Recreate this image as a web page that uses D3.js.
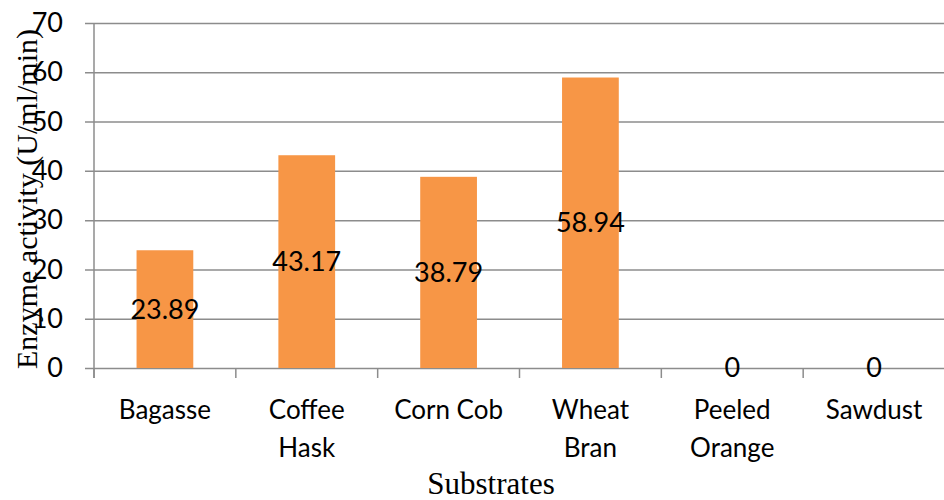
<!DOCTYPE html>
<html>
<head>
<meta charset="utf-8">
<script src="https://cdn.jsdelivr.net/npm/d3@7"></script>
<style>
  body { margin: 0; background: #fff; }
  svg { display: block; }
</style>
</head>
<body>
<svg></svg>
<script>
// data
let substrates = ['Bagasse', 'Coffee Hask', 'Corn Cob', 'Wheat Bran', 'Peeled Orange', 'Sawdust'];
let tickLines = [['Bagasse'], ['Coffee', 'Hask'], ['Corn Cob'], ['Wheat', 'Bran'], ['Peeled', 'Orange'], ['Sawdust']];
let activity = [23.89, 43.17, 38.79, 58.94, 0, 0];
let yTicks = [0, 10, 20, 30, 40, 50, 60, 70];

let width = 944;
let height = 500;
let plotLeft = 94, plotRight = 945, plotTop = 23, plotBottom = 368;

let svg = d3.select('svg').attr('width', width).attr('height', height);

let xScale = d3.scaleBand()
    .domain(substrates)
    .range([plotLeft, plotRight])
    .paddingInner(0.6)
    .paddingOuter(0.3);

let xLine = d3.scaleLinear().domain([0, substrates.length]).range([plotLeft, plotRight]);

let yScale = d3.scaleLinear()
    .domain([0, 70])
    .range([plotBottom, plotTop]);

// gridlines + y labels
let yAxis = d3.axisLeft(yScale).tickValues(yTicks).tickSize(-(plotRight - plotLeft + 9)).tickPadding(22);
let gy = svg.append('g')
    .attr('transform', 'translate(' + (plotLeft - 9) + ',0)')
    .call(yAxis);
gy.select('.domain').remove();
gy.selectAll('.tick line').attr('stroke', '#8c8c8c').attr('stroke-width', 1.5);
gy.selectAll('.tick text')
    .attr('font-family', 'Lato, "Open Sans", sans-serif')
    .attr('font-size', 27)
    .attr('fill', '#000');

// y axis line
svg.append('line')
    .attr('x1', plotLeft).attr('x2', plotLeft)
    .attr('y1', plotTop).attr('y2', plotBottom + 10)
    .attr('stroke', '#8c8c8c').attr('stroke-width', 1.5);

// category ticks
svg.selectAll('.ctick')
    .data(d3.range(substrates.length + 1))
    .enter()
    .append('line')
    .attr('class', 'ctick')
    .attr('x1', d => xLine(d)).attr('x2', d => xLine(d))
    .attr('y1', plotBottom).attr('y2', plotBottom + 10)
    .attr('stroke', '#8c8c8c').attr('stroke-width', 1.5);

// bars
svg.selectAll('.bar')
    .data(activity)
    .enter()
    .append('rect')
    .attr('class', 'bar')
    .attr('x', (d, i) => xScale(substrates[i]))
    .attr('width', xScale.bandwidth())
    .attr('y', d => yScale(d))
    .attr('height', d => plotBottom - yScale(d))
    .attr('fill', '#f79646');

// value labels, centred in bar
svg.selectAll('.val')
    .data(activity)
    .enter()
    .append('text')
    .attr('class', 'val')
    .attr('x', (d, i) => xScale(substrates[i]) + xScale.bandwidth() / 2)
    .attr('y', d => yScale(d / 2))
    .attr('dy', '0.35em')
    .attr('text-anchor', 'middle')
    .attr('font-family', 'Lato, "Open Sans", sans-serif')
    .attr('font-size', 27)
    .attr('fill', '#000')
    .text(d => d === 0 ? '0' : d.toFixed(2));

// category labels
let cl = svg.selectAll('.cat')
    .data(tickLines)
    .enter()
    .append('text')
    .attr('class', 'cat')
    .attr('text-anchor', 'middle')
    .attr('font-family', 'Lato, "Open Sans", sans-serif')
    .attr('font-size', 26)
    .attr('fill', '#000');
cl.selectAll('tspan')
    .data((lines, i) => lines.map(l => ({ l: l, i: i })))
    .enter()
    .append('tspan')
    .attr('x', d => xScale(substrates[d.i]) + xScale.bandwidth() / 2)
    .attr('y', (d, j) => 419 + j * 38)
    .text(d => d.l);

// axis titles
svg.append('text')
    .attr('transform', 'translate(37,' + 199 + ') rotate(-90)')
    .attr('text-anchor', 'middle')
    .attr('font-family', '"Liberation Serif", "Times New Roman", serif')
    .attr('font-size', 30)
    .attr('fill', '#000')
    .text('Enzyme activity (U/ml/min)');

svg.append('text')
    .attr('x', 491)
    .attr('y', 494)
    .attr('text-anchor', 'middle')
    .attr('font-family', '"Liberation Serif", "Times New Roman", serif')
    .attr('font-size', 31)
    .attr('fill', '#000')
    .text('Substrates');
</script>
</body>
</html>
